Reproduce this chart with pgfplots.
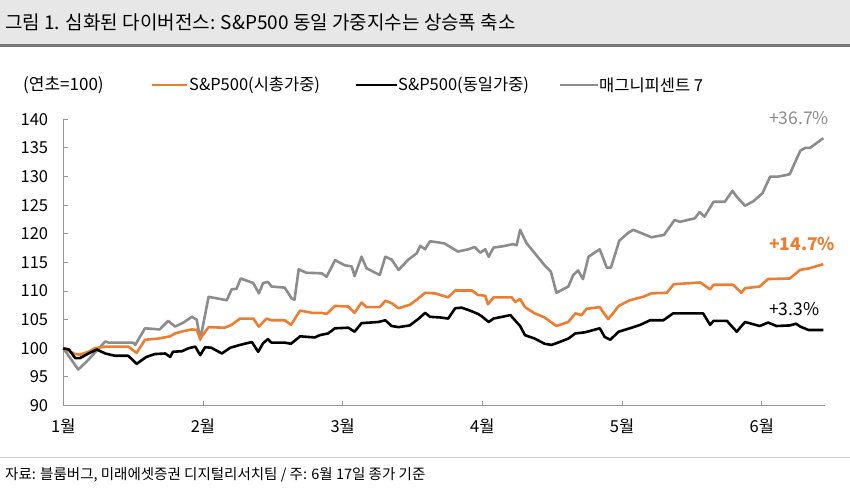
\documentclass[border=0pt]{standalone}
\usepackage{pgfplots}
\pgfplotsset{compat=1.18}
\usepackage{fontspec}
\setmainfont{Noto Sans CJK KR}

\definecolor{mcap}{RGB}{237,125,49}
\definecolor{mag}{RGB}{140,140,140}
\definecolor{axgray}{RGB}{150,150,150}
\definecolor{barfill}{RGB}{231,231,231}
\definecolor{barline}{RGB}{120,120,120}

\begin{document}
\begin{tikzpicture}[x=1bp,y=1bp]
\useasboundingbox (0,0) rectangle (850,489);
% title bar
\fill[barfill] (0,445) rectangle (850,489);
\fill[barline] (0,441.5) rectangle (850,445);
\node[anchor=west,inner sep=0] at (5,467) {\fontsize{19bp}{21bp}\selectfont 그림 1. 심화된 다이버전스: S\&P500 동일 가중지수는 상승폭 축소};

% legend
\node[anchor=west,inner sep=0] at (23,404) {\fontsize{17bp}{19bp}\selectfont (연초=100)};
\draw[mcap,line width=2.6bp] (152,404) -- (187,404);
\node[anchor=west,inner sep=0] at (189,404) {\fontsize{16.5bp}{18bp}\selectfont S\&P500(시총가중)};
\draw[black,line width=2.6bp] (356,404) -- (397,404);
\node[anchor=west,inner sep=0] at (398,404) {\fontsize{16.5bp}{18bp}\selectfont S\&P500(동일가중)};
\draw[mag,line width=2.6bp] (560,404) -- (598,404);
\node[anchor=west,inner sep=0] at (599,404) {\fontsize{16.5bp}{18bp}\selectfont 매그니피센트 7};

\begin{axis}[
    at={(63.3bp,83.4bp)}, anchor=south west,
    scale only axis,
    width=761.7bp, height=286.3bp,
    xmin=0, xmax=109.05,
    ymin=90, ymax=140,
    axis x line=bottom, axis y line=left,
    axis line style={axgray, line width=1bp, -},
    xtick={0,20,40,60,80,100},
    xticklabels={1월,2월,3월,4월,5월,6월},
    ytick={90,95,...,140},
    tick align=inside,
    major tick length=5bp,
    tick style={axgray, line width=1bp},
    /pgf/number format/assume math mode=true,
    ticklabel style={font=\fontsize{16.5bp}{18bp}\selectfont, inner sep=0pt},
    yticklabel style={xshift=-15bp},
    xticklabel style={yshift=-13bp},
    clip=false,
]
\addplot[mag, line width=2.6bp, line join=round] coordinates {
(0,100) (2.15,96.3) (3.35,97.7) (4.8,99.6) (6.0,101.2) (6.5,101.0) (10.0,101.0) (10.3,100.6) (11.7,103.5) (13.8,103.3) (15.0,104.8) (16.0,103.8) (17.2,104.5) (18.4,105.5) (19.1,105.0) (19.6,101.5) (20.8,109.0) (23.4,108.4) (24.1,110.3) (24.8,110.4) (25.4,112.2) (27.2,111.4) (28.0,109.6) (28.6,111.4) (29.3,111.6) (29.8,110.8) (31.7,110.6) (32.7,108.7) (33.1,108.5) (33.7,113.8) (34.8,113.2) (37.0,113.1) (37.7,112.5) (38.9,115.4) (40.3,114.5) (41.3,114.3) (41.7,112.6) (42.7,116.0) (43.4,114.0) (45.3,112.8) (46.1,116.0) (47.0,115.5) (48.0,113.7) (49.4,115.5) (50.6,116.6) (51.1,117.9) (51.8,117.3) (52.5,118.7) (53.7,118.5) (54.6,118.3) (55.4,117.7) (56.5,116.9) (58.0,117.3) (58.9,117.7) (59.7,116.7) (60.4,117.3) (60.9,116.0) (61.6,117.6) (62.8,117.8) (64.4,118.2) (64.9,118.0) (65.4,120.7) (66.3,118.4) (67.5,116.6) (68.9,114.5) (69.8,113.4) (70.6,109.7) (72.3,110.8) (73.0,112.8) (73.7,113.6) (74.4,112.1) (75.2,116.0) (76.8,117.3) (77.8,114.1) (78.4,114.1) (79.6,118.8) (80.9,120.2) (81.6,120.7) (82.8,120.1) (84.2,119.4) (86.0,119.8) (87.5,122.4) (88.3,122.1) (90.4,122.7) (91.1,123.8) (91.8,123.0) (93.1,125.6) (94.7,125.6) (95.8,127.5) (96.4,126.5) (97.6,124.9) (98.8,125.7) (100.1,127.1) (101.2,130.0) (102.4,130.0) (104.0,130.4) (105.5,134.5) (106.2,135.0) (106.9,135.0) (108.8,136.7)
};
\addplot[mcap, line width=2.6bp, line join=round] coordinates {
(0,100) (1.7,99.0) (2.4,98.9) (3.6,99.4) (4.5,100.0) (6.0,100.3) (9.3,100.3) (10.5,99.2) (11.7,101.5) (13.6,101.7) (15.3,102.1) (16.0,102.6) (17.2,103.0) (18.4,103.3) (19.1,103.2) (19.6,101.7) (20.8,103.7) (23.1,103.6) (24.1,104.1) (25.3,105.2) (27.2,105.2) (28.0,103.8) (29.1,105.2) (29.8,104.9) (31.7,104.9) (32.6,104.1) (33.9,106.6) (35.6,106.2) (37.0,106.2) (37.7,106.0) (38.9,107.4) (40.8,107.3) (41.7,106.2) (42.7,108.0) (43.4,107.2) (45.3,107.2) (46.1,108.3) (47.0,107.9) (48.0,107.0) (49.6,107.6) (50.8,108.7) (51.8,109.7) (53.2,109.6) (55.1,108.9) (56.1,110.1) (58.5,110.1) (59.4,109.3) (60.4,109.2) (60.8,107.7) (61.6,108.9) (64.2,108.9) (64.7,108.1) (65.4,108.6) (66.1,107.2) (67.5,106.1) (68.9,105.4) (70.6,103.9) (72.3,104.6) (73.3,106.1) (74.2,105.8) (74.9,106.9) (76.8,107.2) (78.0,105.1) (78.5,105.8) (79.5,107.4) (81.1,108.4) (83.0,109.0) (84.2,109.6) (86.4,109.7) (87.4,111.2) (91.2,111.5) (92.6,110.3) (93.1,111.1) (95.9,111.1) (97.1,109.7) (97.6,110.5) (99.7,110.8) (100.9,112.1) (104.0,112.2) (105.5,113.7) (106.9,114.0) (108.8,114.7)
};
\addplot[black, line width=2.6bp, line join=round] coordinates {
(0,100) (0.8,99.8) (1.7,98.3) (2.4,98.3) (3.6,99.1) (4.8,99.8) (6.0,99.1) (7.4,98.7) (9.3,98.7) (10.5,97.3) (11.9,98.5) (13.1,99.0) (14.6,99.1) (15.3,98.5) (15.7,99.4) (17.0,99.5) (17.9,100.0) (18.9,100.3) (19.6,98.8) (20.3,100.2) (21.2,100.1) (22.7,99.1) (23.9,100.1) (25.3,100.6) (27.0,101.1) (27.9,99.4) (28.6,100.9) (29.3,101.6) (29.8,101.0) (31.7,101.0) (32.6,100.8) (33.9,102.1) (36.0,101.9) (36.7,102.3) (37.9,102.6) (38.9,103.5) (40.8,103.6) (41.7,102.9) (42.7,104.4) (45.1,104.6) (46.1,104.9) (47.0,103.9) (48.0,103.7) (49.6,104.0) (50.8,105.1) (51.8,106.2) (52.5,105.5) (53.9,105.4) (55.1,105.2) (56.1,107.0) (57.0,107.1) (58.0,106.7) (59.4,106.0) (59.9,105.6) (60.9,104.6) (61.6,105.2) (64.0,105.8) (65.4,103.9) (66.1,102.3) (67.5,101.7) (68.9,100.8) (69.9,100.6) (70.6,100.9) (72.3,101.7) (73.3,102.6) (74.7,102.8) (76.8,103.5) (77.5,102.0) (78.3,101.5) (79.5,102.9) (81.1,103.5) (82.6,104.1) (84.0,104.9) (85.9,104.9) (87.3,106.1) (91.6,106.1) (92.6,104.1) (93.1,104.8) (95.0,104.8) (96.4,102.9) (97.6,104.6) (99.7,103.9) (100.9,104.5) (102.1,103.9) (104.0,104.0) (104.9,104.3) (105.5,103.8) (106.7,103.2) (108.8,103.2)
};
\end{axis}

% end labels
\node[anchor=west,inner sep=0,text=mag] at (769,371) {\fontsize{17.5bp}{19bp}\selectfont +36.7\%};
\node[anchor=west,inner sep=0,text=mcap] at (769,245.5) {\fontsize{17.5bp}{19bp}\selectfont\bfseries +14.7\%};
\node[anchor=west,inner sep=0,text=black] at (769,180) {\fontsize{17.5bp}{19bp}\selectfont +3.3\%};

% source
\draw[barfill!80!gray,line width=1bp] (0,31) -- (850,31);
\node[anchor=west,inner sep=0] at (5,14) {\fontsize{14.5bp}{16bp}\selectfont 자료: 블룸버그, 미래에셋증권 디지털리서치팀 / 주: 6월 17일 종가 기준};
\end{tikzpicture}
\end{document}
